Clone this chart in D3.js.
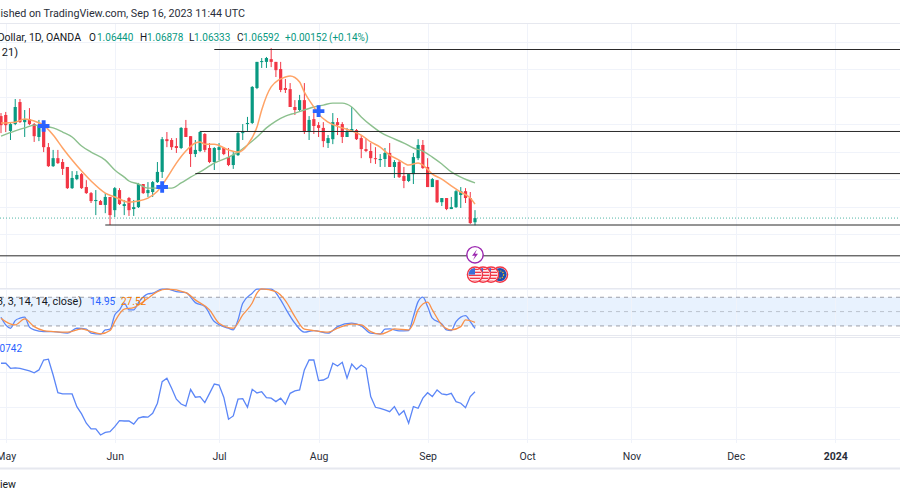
<!DOCTYPE html>
<html>
<head>
<meta charset="utf-8">
<style>
html, body { margin: 0; padding: 0; background: #fff; overflow: hidden; }
svg { display: block; font-family: Roboto, sans-serif; }
.grid line { stroke: #f0f3fa; shape-rendering: crispEdges; }
.grid path { display: none; }
</style>
</head>
<body>
<svg id="chart" width="900" height="500"></svg>
<script src="https://cdn.jsdelivr.net/npm/d3@7"></script>
<script>
// daily bars, oldest first; the last one is Sep 15 2023
const opens = [1.1030,1.1034,1.0976,1.1001,1.1081,1.1008,1.1019,1.1001,1.0954,1.0994,
  1.0917,1.0848,1.0877,1.0863,1.0845,1.0768,1.0801,1.0819,1.0772,1.0750,
  1.0721,1.0721,1.0707,1.0736,1.0688,1.0761,1.0703,1.0732,1.0692,1.0699,
  1.0783,1.0750,1.0754,1.0790,1.0827,1.0946,1.0943,1.0921,1.0914,1.0987,
  1.0957,1.0892,1.0903,1.0965,1.0914,1.0863,1.0907,1.0914,1.0881,1.0852,
  1.0888,1.0968,1.1001,1.1005,1.1132,1.1227,1.1227,1.1237,1.1227,1.1201,
  1.1132,1.1128,1.1063,1.1052,1.1088,1.0972,1.1019,1.0997,1.0987,1.0932,
  1.0946,1.1008,1.1001,1.0954,1.0972,1.0979,1.0950,1.0910,1.0903,1.0877,
  1.0870,1.0874,1.0896,1.0845,1.0863,1.0812,1.0794,1.0819,1.0877,1.0925,
  1.0845,1.0772,1.0797,1.0717,1.0732,1.0692,1.0699,1.0743,1.0757,1.0732,1.0644]
const highs = [1.1041,1.1045,1.1008,1.1092,1.1092,1.1052,1.1059,1.1005,1.1016,1.1008,
  1.0932,1.0907,1.0907,1.0874,1.0845,1.0830,1.0830,1.0823,1.0797,1.0754,
  1.0761,1.0725,1.0750,1.0736,1.0772,1.0768,1.0725,1.0736,1.0725,1.0787,
  1.0783,1.0790,1.0794,1.0863,1.0954,1.0972,1.0950,1.0950,1.0990,1.1016,
  1.0957,1.0943,1.0976,1.0968,1.0932,1.0917,1.0932,1.0917,1.0914,1.0899,
  1.0972,1.1001,1.1027,1.1139,1.1227,1.1241,1.1245,1.1277,1.1227,1.1227,
  1.1165,1.1150,1.1088,1.1107,1.1150,1.1030,1.1045,1.1008,1.1008,1.0961,
  1.1041,1.1023,1.1008,1.0987,1.1063,1.0983,1.0961,1.0950,1.0932,1.0917,
  1.0892,1.0914,1.0932,1.0870,1.0870,1.0845,1.0819,1.0896,1.0946,1.0943,
  1.0877,1.0805,1.0797,1.0732,1.0732,1.0736,1.0761,1.0772,1.0768,1.0754,1.0688]
const lows = [1.0968,1.0972,1.0943,1.0997,1.1005,1.0954,1.0997,1.0936,1.0939,1.0899,
  1.0845,1.0845,1.0856,1.0816,1.0765,1.0765,1.0797,1.0765,1.0747,1.0714,
  1.0670,1.0707,1.0677,1.0634,1.0663,1.0707,1.0670,1.0667,1.0667,1.0696,
  1.0747,1.0736,1.0736,1.0787,1.0805,1.0917,1.0907,1.0896,1.0910,1.0954,
  1.0845,1.0881,1.0899,1.0899,1.0859,1.0834,1.0870,1.0888,1.0848,1.0838,
  1.0885,1.0943,1.0976,1.1001,1.1128,1.1205,1.1205,1.1208,1.1172,1.1117,
  1.1114,1.1063,1.1034,1.1045,1.0965,1.0943,1.0965,1.0954,1.0917,1.0914,
  1.0928,1.0961,1.0932,1.0954,1.0972,1.0943,1.0877,1.0899,1.0859,1.0856,
  1.0845,1.0845,1.0845,1.0805,1.0805,1.0768,1.0790,1.0783,1.0870,1.0838,
  1.0772,1.0772,1.0714,1.0703,1.0688,1.0692,1.0696,1.0696,1.0714,1.0638,1.0633]
const closes = [1.0997,1.0997,1.1001,1.1063,1.1008,1.1019,1.1001,1.0957,1.0997,1.0917,
  1.0848,1.0877,1.0859,1.0838,1.0768,1.0805,1.0816,1.0768,1.0750,1.0721,
  1.0725,1.0707,1.0736,1.0670,1.0768,1.0710,1.0710,1.0688,1.0699,1.0783,
  1.0750,1.0761,1.0790,1.0827,1.0946,1.0939,1.0917,1.0914,1.0987,1.0954,
  1.0892,1.0907,1.0972,1.0907,1.0863,1.0914,1.0917,1.0892,1.0852,1.0888,
  1.0968,1.0972,1.1005,1.1136,1.1227,1.1230,1.1241,1.1227,1.1197,1.1125,
  1.1125,1.1063,1.1052,1.1088,1.0972,1.1016,1.0994,1.0987,1.0939,1.0950,
  1.1008,1.0997,1.0954,1.0972,1.0983,1.0946,1.0910,1.0903,1.0877,1.0874,
  1.0874,1.0896,1.0845,1.0863,1.0808,1.0794,1.0819,1.0881,1.0925,1.0841,
  1.0772,1.0801,1.0717,1.0732,1.0692,1.0699,1.0757,1.0757,1.0732,1.0641,1.0659]

// moving averages, read at these bars (bars before the last one)
const fastBars = [100,97,95,93,91,89,87,85,83,81,78,76,73,71,69,67,65,63,61,59,58,57,55,52,50,48,46,45,43,40,39,37,36,34,33,31,28,26,24,22,20,18,16,14,12,11,9,7,5,3,1,0]
const fastValues = [1.1005,1.1008,1.1019,1.1012,1.0997,1.0961,1.0914,1.0870,1.0830,1.0794,1.0750,1.0736,1.0717,1.0721,1.0732,1.0757,1.0805,1.0859,1.0903,1.0932,1.0936,1.0928,1.0928,1.0907,1.0899,1.0925,1.0990,1.1052,1.1136,1.1172,1.1176,1.1154,1.1117,1.1063,1.1037,1.1008,1.0987,1.0976,1.0961,1.0936,1.0917,1.0888,1.0870,1.0852,1.0859,1.0852,1.0819,1.0801,1.0776,1.0754,1.0732,1.0710]
const slowBars = [100,97,95,93,91,89,87,85,83,81,78,76,74,73,71,69,66,64,62,60,58,55,52,50,48,46,44,42,40,38,36,34,32,30,28,26,24,22,20,18,15,13,11,9,7,5,3,0]
const slowValues = [1.0957,1.0976,1.0987,1.0997,1.0994,1.0987,1.0972,1.0954,1.0921,1.0899,1.0870,1.0834,1.0808,1.0794,1.0783,1.0768,1.0768,1.0768,1.0787,1.0808,1.0827,1.0859,1.0881,1.0899,1.0925,1.0954,1.0987,1.1012,1.1030,1.1041,1.1052,1.1063,1.1070,1.1077,1.1077,1.1063,1.1027,1.0997,1.0972,1.0954,1.0932,1.0914,1.0903,1.0881,1.0856,1.0827,1.0808,1.0787]

// crosses: bars ago and price
const crossBars = [91, 66, 33]
const crossPrices = [1.0994, 1.0772, 1.1048]

// hand drawn levels: price and the bar they start at
const levelPrices = [1.1272, 1.0974, 1.0821, 1.0634, 1.0522]
const levelStarts = [55, 58, 59, 78, 101]

// stochastic rsi pane
const stochKBars = [100,99,98,97,96,95,94,93,91,89,86,84,82,81,79,78,77,76,75,74,73,72,71,69,68,66,65,63,61,59,57,55,52,51,50,49,47,46,43,41,40,38,36,34,31,29,26,24,22,20,19,18,16,14,13,12,11,10,9,7,6,5,4,2,1,0]
const stochK = [38.3,22.2,15.2,31.2,36.2,38.3,17.4,11.7,8.2,8.2,4.8,15.2,13.2,4.8,2.7,11.7,13.2,43,53.6,67.6,53.6,53.6,68.8,87,88.5,96.9,96.9,91.8,89.7,68.8,60.5,29.1,15.2,11.7,32.6,67.6,88.5,96.9,96.9,74.5,57.1,25.7,6.9,10.3,4.8,18.6,25.7,20.1,4.8,3.3,13.2,13.8,9.6,10.3,39.5,70.9,80.1,60.5,36.2,24.3,11.7,10.3,29.1,41.6,29.1,14.95]
const stochDBars = [100,99,97,95,93,91,89,86,83,81,79,77,76,74,72,69,67,65,61,59,56,54,51,49,47,46,45,42,40,38,36,34,31,29,26,24,22,20,18,17,14,13,12,10,9,7,5,3,2,0]
const stochD = [36.2,29.1,22.2,34.7,18.6,10.3,8.2,6.9,13.8,8.2,3.3,10.3,29.1,55,58.4,78,91.8,96.9,89.7,74.5,53.6,25.7,15.2,43,68,88.5,97.5,91.8,73,39.5,13.2,10.3,6.9,15.2,23.6,22.2,8.2,2.7,9.6,13.8,11.7,25.7,53.6,69.7,53.6,22.2,11.7,18.6,32.6,27.52]
const stochBands = [80, 50, 20]

// lower oscillator, one value per bar
const oscValues = [.0215,.0215,.0190,.0192,.0190,.0184,.0177,.0168,.0182,.0231,.0235,.0157,.0069,.0063,.0063,.0063,0,-.0036,-.0082,-.0110,
  -.0110,-.0140,-.0127,-.0124,-.0099,-.0069,-.0071,-.0071,-.0086,-.0057,-.0050,-.0052,-.0033,.0017,.0124,.0141,.0091,.0037,.0013,.0003,
  .0086,.0047,.0050,.0020,.0066,.0112,.0107,.0047,-.0062,-.0046,.0037,.0040,-.0003,.0086,.0068,.0074,.0045,.0042,.0025,.0042,
  .0012,.0066,.0078,.0083,.0182,.0231,.0231,.0129,.0132,.0144,.0215,.0201,.0220,.0141,.0211,.0185,.0206,.0190,.0050,-.0003,
  -.0008,-.0016,-.0025,0,-.0041,-.0020,-.0082,0,-.0008,.0042,.0069,.0050,.0083,.0063,.0059,.0066,.0025,.0017,-.0005,.0050,.0074]

// grid and time axis
const priceGrid = [1.13,1.12,1.11,1.10,1.09,1.08,1.07,1.06,1.05,1.04]
const oscGrid = [.0172, 0, -.0162]
const tickBars = [99,76,54,33,10,-11,-33,-55,-76]
const tickLabels = ['May','Jun','Jul','Aug','Sep','Oct','Nov','Dec','2024']
const lastPrice = 1.06592

const red = '#f23645', green = '#089981', textColor = '#131722'
const svg = d3.select('#chart')

const x = d3.scaleLinear().domain([0, 100]).range([475, 1])
const y = d3.scaleLinear().domain([1.0405, 1.1452]).range([288, 0])
const yStoch = d3.scaleLinear().domain([0, 100]).range([335.5, 287.7])
const yOsc = d3.scaleLinear().domain([-.0165, .0345]).range([440, 337])

// vertical + horizontal grid
svg.append('g').attr('class', 'grid')
    .call(d3.axisLeft(y).tickValues(priceGrid).tickSize(-900).tickFormat(''))
svg.append('g').attr('class', 'grid')
    .call(d3.axisLeft(yOsc).tickValues(oscGrid).tickSize(-900).tickFormat(''))

// stoch band sits under the lines
svg.append('rect').attr('x', 0).attr('width', 900)
    .attr('y', yStoch(stochBands[0])).attr('height', yStoch(stochBands[2]) - yStoch(stochBands[0]))
    .attr('fill', '#e8f2fe')

const timeAxis = svg.append('g').attr('class', 'grid').attr('transform', 'translate(0,443)')
    .call(d3.axisBottom(x).tickValues(tickBars).tickSize(-420).tickPadding(9.5)
        .tickFormat((d, i) => tickLabels[i]))
timeAxis.selectAll('text')
    .attr('font-size', 10.5).attr('font-family', 'Roboto, sans-serif').attr('fill', '#2a2e39')
    .attr('font-weight', (d, i) => tickLabels[i] === '2024' ? 700 : 400)

svg.selectAll('.band').data(stochBands).join('line')
    .attr('x1', 0).attr('x2', 900)
    .attr('y1', d => yStoch(d)).attr('y2', d => yStoch(d))
    .attr('stroke', '#787b86').attr('stroke-dasharray', '4 4')
    .attr('stroke-opacity', d => d === 50 ? 0.4 : 0.7)

// pane separators
const separators = [23.5, 288.5, 335.5, 337.5, 468.5]
svg.selectAll('.sep').data(separators).join('line')
    .attr('x1', 0).attr('x2', 900).attr('y1', d => d).attr('y2', d => d)
    .attr('stroke', '#e6e8ef').attr('stroke-width', (d, i) => i === 4 ? 2 : 1)

svg.append('line').attr('x1', 0).attr('x2', 900)
    .attr('y1', y(lastPrice)).attr('y2', y(lastPrice))
    .attr('stroke', green).attr('stroke-dasharray', '1 2').attr('opacity', 0.7)

// candles
const bars = opens.map((open, i) => ({
    ago: opens.length - 1 - i, open, high: highs[i], low: lows[i], close: closes[i],
}))
const barColor = d => d.close >= d.open ? green : red
const candles = svg.append('g').selectAll('g').data(bars).join('g')
candles.append('line')
    .attr('x1', d => x(d.ago)).attr('x2', d => x(d.ago))
    .attr('y1', d => y(d.high)).attr('y2', d => y(d.low))
    .attr('stroke', barColor)
candles.append('rect')
    .attr('x', d => x(d.ago) - 1.6).attr('width', 3.2)
    .attr('y', d => y(Math.max(d.open, d.close)))
    .attr('height', d => Math.max(1, Math.abs(y(d.open) - y(d.close))))
    .attr('fill', barColor)

const curve = d3.curveMonotoneX
const drawLine = (bars, values, scale, color, width) => svg.append('path')
    .attr('d', d3.line().x((d, i) => x(bars[i])).y(d => scale(d)).curve(curve)(values))
    .attr('fill', 'none').attr('stroke', color).attr('stroke-width', width)
    .attr('stroke-linejoin', 'round')

drawLine(slowBars, slowValues, y, '#8cc08e', 1.4)
drawLine(fastBars, fastValues, y, '#ffa366', 1.5)

svg.selectAll('.cross').data(crossBars).join('path')
    .attr('d', d3.symbol(d3.symbolCross, 75))
    .attr('transform', (d, i) => `translate(${x(d)},${y(crossPrices[i])})`)
    .attr('fill', '#2962ff')

// levels go on top of the candles
svg.selectAll('.level').data(levelPrices).join('line')
    .attr('x1', (d, i) => x(levelStarts[i])).attr('x2', 900)
    .attr('y1', d => y(d)).attr('y2', d => y(d))
    .attr('stroke', '#2a2a2a').attr('stroke-width', 1)

// stoch + oscillator lines
drawLine(stochKBars, stochK, yStoch, '#5b86f7', 1.3)
drawLine(stochDBars, stochD, yStoch, '#f9914a', 1.3)
svg.append('path')
    .attr('d', d3.line().x((d, i) => x(oscValues.length - 1 - i)).y(d => yOsc(d))(oscValues))
    .attr('fill', 'none').attr('stroke', '#5b86f7').attr('stroke-width', 1.3)

// event badges under the last bar
const eventX = x(0)
const bolt = svg.append('g').attr('transform', `translate(${eventX},254.8)`)
bolt.append('circle').attr('r', 8.2).attr('fill', '#fff').attr('stroke', '#9c27b0').attr('stroke-width', 1.4)
bolt.append('path').attr('d', 'M2 -5.5 L-3 1 L0 1 L-2 5.5 L3 -1 L0 -1 Z').attr('fill', '#9c27b0')

const badgeOffsets = [25, 16, 8, 0]
const badgeKinds = ['eu', 'us', 'us', 'us']
const defs = svg.append('defs')
defs.append('clipPath').attr('id', 'flagClip').append('circle').attr('r', 6.6)
const badges = svg.selectAll('.badge').data(badgeOffsets).join('g')
    .attr('transform', d => `translate(${eventX + d},274.6)`)
badges.append('circle').attr('r', 7.6).attr('fill', '#fff').attr('stroke', red).attr('stroke-width', 1.4)
const flags = badges.append('g').attr('clip-path', 'url(#flagClip)')
flags.each(function (d, i) {
    const flag = d3.select(this)
    if (badgeKinds[i] === 'eu') {
        flag.append('rect').attr('x', -7).attr('y', -7).attr('width', 14).attr('height', 14).attr('fill', '#1c4fb0')
        flag.append('circle').attr('r', 3.6).attr('fill', 'none').attr('stroke', '#f5c518').attr('stroke-width', 1.2).attr('stroke-dasharray', '1.2 1.2')
    } else {
        flag.append('rect').attr('x', -7).attr('y', -7).attr('width', 14).attr('height', 14).attr('fill', '#fff')
        d3.range(-6, 7, 3).forEach(s => flag.append('rect').attr('x', -7).attr('y', s).attr('width', 14).attr('height', 1.5).attr('fill', red))
        flag.append('rect').attr('x', -7).attr('y', -7).attr('width', 7).attr('height', 7).attr('fill', '#3c6fd8')
    }
})

// texts, most of them run off the left edge as in the screenshot
const label = (txt, px, py, color, opts = {}) => svg.append('text')
    .attr('x', px).attr('y', py).text(txt).attr('fill', color)
    .attr('font-size', opts.size || 10).attr('text-anchor', opts.anchor || 'start')
    .attr('font-weight', opts.weight || 400)

label('Published on TradingView.com, Sep 16, 2023 11:44 UTC', 245, 16.5, '#2a2e39', { anchor: 'end', size: 10.75 })
label('Euro / U.S. Dollar, 1D, OANDA', 81, 40.5, textColor, { anchor: 'end', size: 10.5 })
const ohlc = [['O', 89, '1.06440', 97], ['H', 140, '1.06878', 147], ['L', 189, '1.06333', 194], ['C', 237, '1.06592', 243]]
ohlc.forEach(([name, nx, val, vx]) => {
    label(name, nx, 40.5, textColor)
    label(val, vx, 40.5, green)
})
label('+0.00152', 285, 40.5, green)
label('(+0.14%)', 329, 40.5, green)
label('MA Cross (9, 21)', 18, 55.5, textColor, { anchor: 'end', size: 11 })
label('Stoch RSI (3, 3, 14, 14, close)', 82, 305, textColor, { anchor: 'end', size: 10.8 })
label('14.95', 90, 305, '#2962ff')
label('27.52', 121, 305, '#f57c00')
label('0.00742', 22, 351.5, '#2962ff', { anchor: 'end' })
label('TradingView', 16, 488, textColor, { anchor: 'end', size: 10.5 })
</script>
</body>
</html>
